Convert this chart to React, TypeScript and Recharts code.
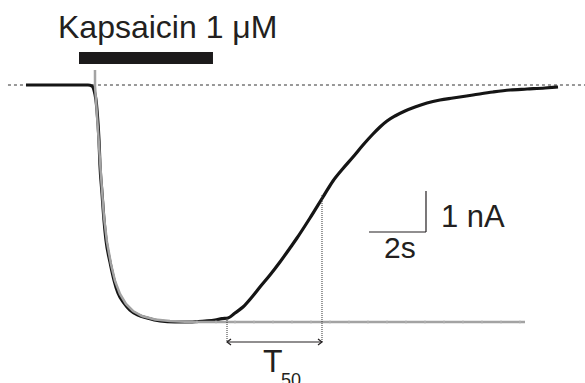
import React from 'react';
import {
  ComposedChart,
  Line,
  Scatter,
  XAxis,
  YAxis,
  ReferenceLine,
  ReferenceArea,
  ReferenceDot,
} from 'recharts';

// time in seconds (0 = capsaicin artefact), current in nA (0 = baseline)
const blackTime = [
  -2.421, -1.579, -0.877, -0.246, -0.105, -0.035, 0.035, 0.07, 0.14, 0.175, 0.246, 0.316, 0.386,
  0.526, 0.667, 0.807, 1.018, 1.228, 1.509, 1.825, 2.281, 2.807, 3.333, 3.86, 4.211, 4.456, 4.667,
  4.912, 5.193, 5.509, 5.789, 6.14, 6.491, 6.842, 7.088, 7.544, 8.0, 8.351, 8.702, 9.053, 9.404,
  9.754, 10.0, 10.246, 10.526, 10.877, 11.228, 11.649, 12.105, 12.561, 13.263, 13.965, 14.561,
  15.158, 15.789, 16.246,
];
const blackCurrent = [
  0, 0, 0, 0, -0.024, -0.122, -0.366, -0.61, -1.341, -1.951, -2.634, -3.293, -3.78, -4.317, -4.756,
  -5.073, -5.317, -5.488, -5.61, -5.683, -5.756, -5.78, -5.78, -5.756, -5.732, -5.7, -5.683, -5.561,
  -5.415, -5.171, -4.927, -4.634, -4.317, -3.976, -3.732, -3.244, -2.732, -2.341, -2.037, -1.756,
  -1.463, -1.195, -1.024, -0.878, -0.756, -0.634, -0.537, -0.439, -0.366, -0.317, -0.244, -0.171,
  -0.122, -0.098, -0.073, -0.049,
];

const grayTime = [
  0, 0.001, 0.035, 0.105, 0.175, 0.246, 0.316, 0.421, 0.561, 0.702, 0.877, 1.088, 1.333, 1.649,
  2.105, 2.632, 3.333, 15.088,
];
const grayCurrent = [
  0.366, -0.024, -0.366, -1.098, -1.829, -2.561, -3.22, -3.829, -4.366, -4.78, -5.098, -5.341,
  -5.512, -5.634, -5.72, -5.756, -5.78, -5.78,
];

const grayTickTime = [
  3.579, 4.246, 4.912, 5.579, 6.246, 6.912, 7.579, 8.246, 8.912, 9.579, 10.246, 10.912, 11.579,
  12.246, 12.912, 13.579, 14.246, 14.912,
];
const peakCurrent = -5.78;

const drugLabel = 'Kapsaicin 1 μM';
const drugStart = -0.561;
const drugEnd = 4.14;
const t50Start = 4.632;
const t50End = 7.965;
const scaleTime = 2; // s
const scaleCurrent = 1; // nA

const blackData = blackTime.map((t, i) => ({ t, I: blackCurrent[i] }));
const grayData = grayTime.map((t, i) => ({ t, I: grayCurrent[i] }));
const tickData = grayTickTime.map((t) => ({ t, I: peakCurrent }));

const FONT = '"Liberation Sans", Arial, Helvetica, sans-serif';
const INK = '#231f20';

const textShape = (value: string, size: number) => (p: any) => (
  <text x={p.cx} y={p.cy} fontFamily={FONT} fontSize={size} fill={INK}>
    {value}
  </text>
);

const tickShape = (p: any) => (
  <line x1={p.cx} x2={p.cx} y1={p.cy - 1.5} y2={p.cy + 1.5} stroke="#b5b5b5" strokeWidth={1} />
);

const arrowShape = (p: any) => {
  const { x1, y1, x2, y2 } = p;
  return (
    <g stroke={INK} strokeWidth={1.2} fill="none">
      <line x1={x1} y1={y1} x2={x2} y2={y2} />
      <polyline points={`${x1 + 4},${y1 - 3} ${x1},${y1} ${x1 + 4},${y1 + 3}`} />
      <polyline points={`${x2 - 4},${y2 - 3} ${x2},${y2} ${x2 - 4},${y2 + 3}`} />
    </g>
  );
};

const t50Shape = (p: any) => (
  <g fontFamily={FONT} fill={INK}>
    <text x={p.cx} y={p.cy} fontSize={32}>
      T
    </text>
    <text x={p.cx + 18} y={p.cy + 14} fontSize={18}>
      50
    </text>
  </g>
);

export default function App() {
  return (
    <div style={{ position: 'absolute', left: 0, top: 0, width: 585, height: 383, background: '#fff' }}>
      <ComposedChart width={585} height={383} margin={{ top: 0, right: 0, bottom: 0, left: 0 }}>
        <XAxis type="number" dataKey="t" domain={[-3.333, 17.193]} allowDataOverflow hide />
        <YAxis type="number" domain={[-7.2683, 2.0732]} allowDataOverflow hide />

        <ReferenceLine
          segment={[
            { x: -3.053, y: 0 },
            { x: 17.193, y: 0 },
          ]}
          stroke="#333"
          strokeWidth={1}
          strokeDasharray="3 3"
        />
        <ReferenceArea x1={drugStart} x2={drugEnd} y1={0.512} y2={0.805} fill="#1c1a1b" fillOpacity={1} stroke="none" />
        <ReferenceDot x={-1.298} y={1.146} r={0} shape={textShape(drugLabel, 32)} />

        <Line
          data={blackData}
          dataKey="I"
          type="monotone"
          dot={false}
          activeDot={false}
          legendType="none"
          stroke="#151515"
          strokeWidth={3.2}
          isAnimationActive={false}
        />
        <Line
          data={grayData}
          dataKey="I"
          type="linear"
          dot={false}
          activeDot={false}
          legendType="none"
          stroke="#a3a3a3"
          strokeWidth={2.5}
          isAnimationActive={false}
        />
        <Scatter data={tickData} dataKey="I" shape={tickShape} isAnimationActive={false} />

        {/* T50 markers */}
        <ReferenceLine
          segment={[
            { x: t50End, y: -2.683 },
            { x: t50End, y: -6.268 },
          ]}
          stroke="#333"
          strokeWidth={1}
          strokeDasharray="1 1"
        />
        <ReferenceLine
          segment={[
            { x: t50Start, y: -5.683 },
            { x: t50Start, y: -6.268 },
          ]}
          stroke="#333"
          strokeWidth={1}
          strokeDasharray="1 1"
        />
        <ReferenceLine
          segment={[
            { x: t50Start, y: -6.268 },
            { x: t50End, y: -6.268 },
          ]}
          shape={arrowShape}
        />
        <ReferenceDot x={5.895} y={-7.0} r={0} shape={t50Shape} />

        {/* scale bar */}
        <ReferenceLine
          segment={[
            { x: 11.614 - scaleTime, y: -3.585 },
            { x: 11.614, y: -3.585 },
          ]}
          stroke={INK}
          strokeWidth={1.2}
        />
        <ReferenceLine
          segment={[
            { x: 11.614, y: -3.585 },
            { x: 11.614, y: -3.585 + scaleCurrent },
          ]}
          stroke={INK}
          strokeWidth={1.2}
        />
        <ReferenceDot x={12.14} y={-3.463} r={0} shape={textShape('1 nA', 31)} />
        <ReferenceDot x={10.14} y={-4.22} r={0} shape={textShape('2s', 30)} />
      </ComposedChart>
    </div>
  );
}
